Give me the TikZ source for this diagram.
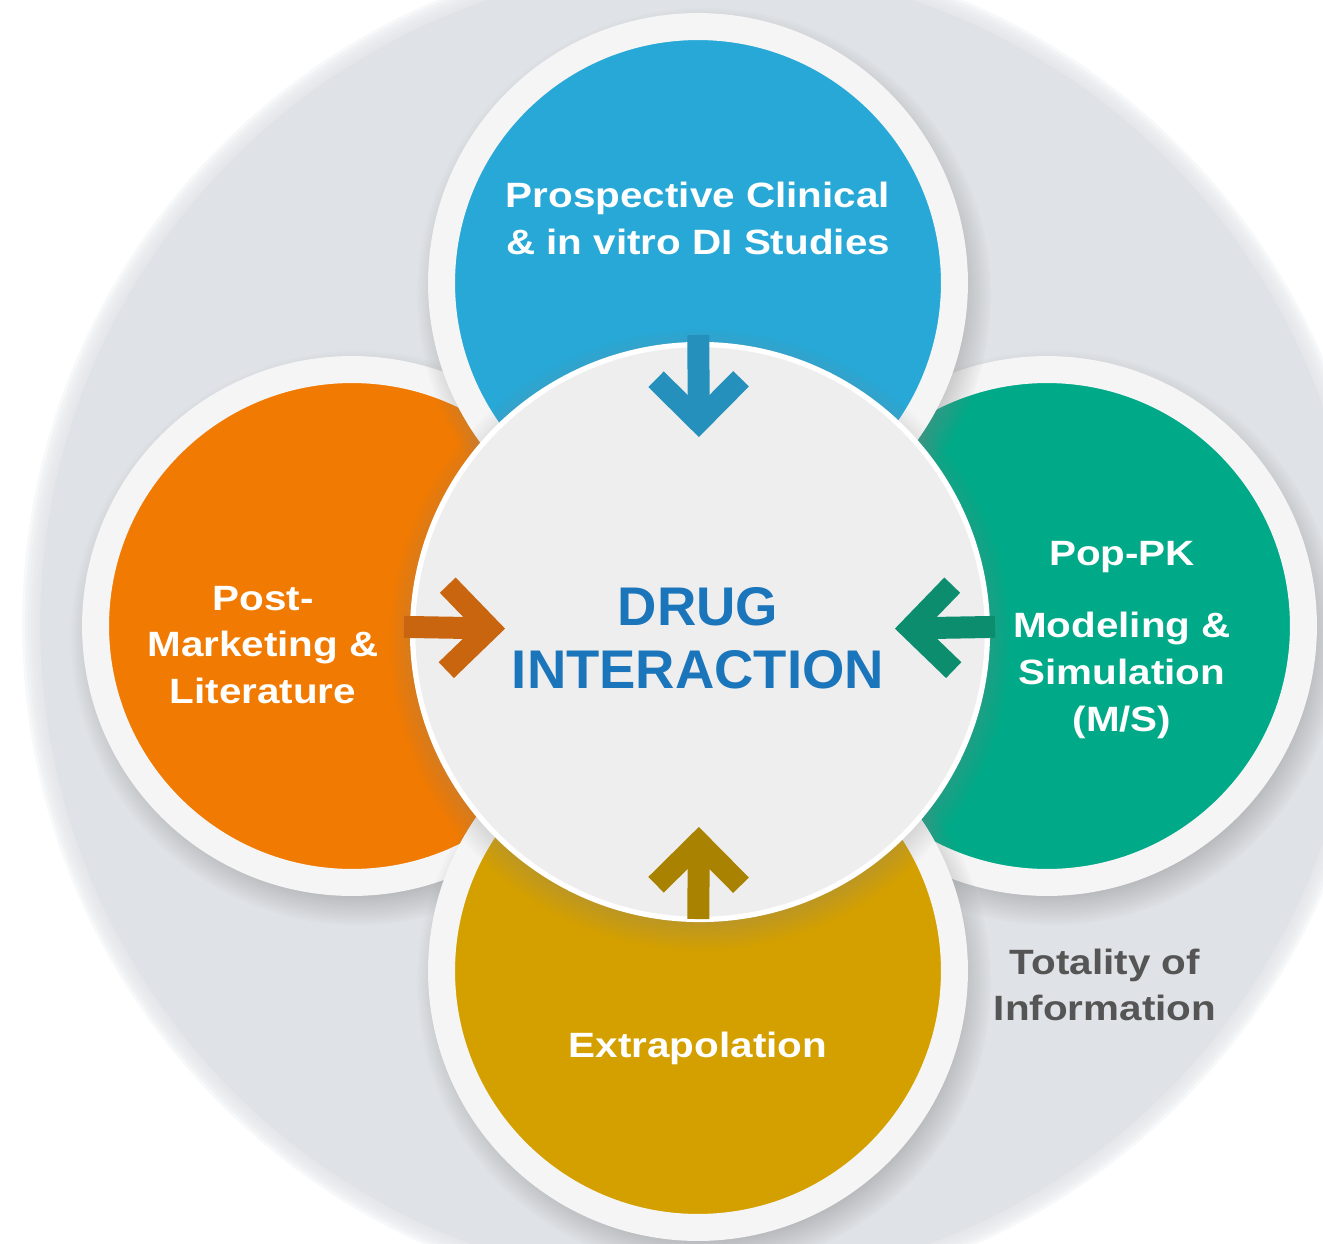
\documentclass[tikz,border=0pt]{standalone}
\usepackage{fontspec}
\setmainfont{Liberation Sans}
\newfontfamily\lblfont[FakeStretch=1.15]{Liberation Sans}
\usepackage{tikz}
\usetikzlibrary{shapes,calc,positioning,arrows.meta,shadows}
\definecolor{disc}{HTML}{DFE2E6}
\definecolor{ring}{HTML}{F5F5F5}
\definecolor{hub}{HTML}{EEEEEE}
\definecolor{cblue}{HTML}{28A8D6}
\definecolor{corange}{HTML}{F07A02}
\definecolor{cgreen}{HTML}{00A987}
\definecolor{cgold}{HTML}{D4A000}
\definecolor{ablue}{HTML}{2690BC}
\definecolor{aorange}{HTML}{C8650E}
\definecolor{agreen}{HTML}{0C8D6D}
\definecolor{agold}{HTML}{A88200}
\definecolor{dtext}{HTML}{1B75BB}
\definecolor{gtext}{HTML}{555555}

\begin{document}
\begin{tikzpicture}[x=0.02cm, y=-0.02cm]
\tikzstyle{pc}=[circle,draw=ring,line width=0.54cm,minimum size=10.26cm,inner sep=0pt,circular drop shadow={shadow xshift=3pt,shadow yshift=-6pt,shadow scale=1.12,opacity=0.55}]
\tikzstyle{lbl}=[text=white,align=center,font=\lblfont\bfseries\fontsize{20}{26.7}\selectfont]
\tikzstyle{arr}=[line width=0.44cm,shorten <=1.04cm,shorten >=3.9cm,-{Straight Barb[length=0.85cm,width=1.7cm]}]
\useasboundingbox (0,0) rectangle (1323,1244);

% grey backdrop with a soft rim
\node[circle,fill=disc,minimum size=26.4cm,inner sep=0pt] (disc) at (700,625) {};
\foreach \k in {1,...,6}
  \node[circle,fill=disc,opacity=0.25,minimum size=26.4cm+\k*0.12cm,inner sep=0pt] at (disc) {};

% the four sources
\node[pc,fill=corange] (post) at (352,626) {};
\node[pc,fill=cgreen] (pop) at (1047,626) {};
\node[pc,fill=cblue] (prosp) at (698,283) {};
\node[pc,fill=cgold] (extra) at (698,971) {};

% hub
\node[circle,fill=hub,draw=white,line width=3pt,minimum size=11.5cm,inner sep=0pt,circular drop shadow={shadow xshift=0pt,shadow yshift=-4pt,shadow scale=1.08,opacity=0.45}] (drug) at (700,632) {};

\draw[arr,ablue] (prosp.center) -- (drug.center);
\draw[arr,aorange] (post.center) -- (drug.center);
\draw[arr,agreen] (pop.center) -- (drug.center);
\draw[arr,agold] (extra.center) -- (drug.center);

\node[lbl] (tprosp) at (698,218) {Prospective Clinical\\ \& in vitro DI Studies};
\node[lbl] (tpost) at (263,645) {Post-\\Marketing \&\\Literature};
\node[lbl] (tpop) at (1122,640) {Pop-PK\\[0.5cm] Modeling \&\\Simulation\\(M/S)};
\node[lbl] (textra) at (698,1048) {Extrapolation};
\node[text=dtext,align=center,font=\bfseries\fontsize{31}{35.7}\selectfont] (tdrug) at (698,638) {DRUG\\INTERACTION};
\node[text=gtext,align=center,font=\lblfont\bfseries\fontsize{20}{26}\selectfont] (ttot) at (1105,985) {Totality of\\Information};
\end{tikzpicture}
\end{document}
